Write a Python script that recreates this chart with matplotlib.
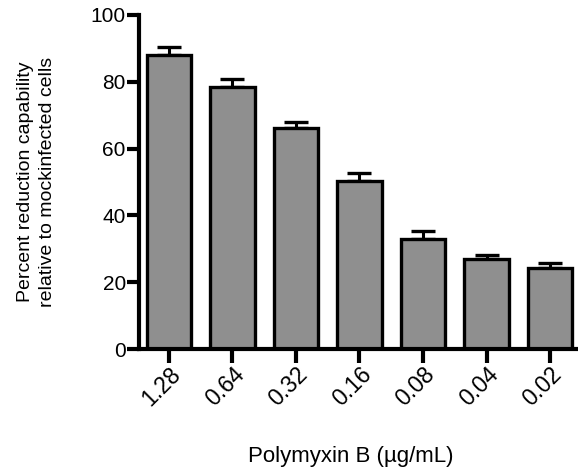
import matplotlib
matplotlib.use('Agg')
import matplotlib.pyplot as plt

# data
doses = ['1.28', '0.64', '0.32', '0.16', '0.08', '0.04', '0.02']
means = [88.0, 78.4, 66.2, 50.3, 33.0, 26.8, 24.4]
errors = [2.4, 2.4, 1.9, 2.4, 2.3, 1.3, 1.4]

plt.rcParams['font.family'] = ['Liberation Sans', 'DejaVu Sans']

fig = plt.figure(figsize=(5.78, 4.74), dpi=100)
ax = fig.add_axes([0.2405, 0.2637, 0.7595, 0.7047])

x = list(range(len(doses)))

# error bars (upper half only, drawn behind the bars)
ax.errorbar(x, means, yerr=[[0] * len(errors), errors], fmt='none',
            ecolor='black', elinewidth=2.2, capsize=8.5, capthick=2.4, zorder=1)
ax.bar(x, means, width=0.7, color='#8f8f8f', edgecolor='black',
       linewidth=2.4, zorder=2)

ax.set_xlim(-0.47, 6.44)
ax.set_ylim(0, 100)
ax.set_yticks([0, 20, 40, 60, 80, 100])
ax.set_xticks(x)
ax.set_xticklabels(doses, rotation=45, ha='right', va='top',
                   rotation_mode='anchor', fontsize=16.5)

for side in ['top', 'right']:
    ax.spines[side].set_visible(False)
for side in ['left', 'bottom']:
    ax.spines[side].set_linewidth(3)
ax.spines['bottom'].set_bounds(-0.47, 6.44)

ax.tick_params(axis='y', length=8.5, width=3, labelsize=15, pad=1)
ax.tick_params(axis='x', length=10, width=3, pad=0)

ax.set_ylabel('Percent reduction capability\nrelative to mockinfected cells',
              fontsize=14, linespacing=1.4, labelpad=25)
ax.set_xlabel('Polymyxin B (µg/mL)', fontsize=16)
ax.xaxis.set_label_coords(0.483, -0.29)

fig.savefig('out.png', dpi=100, facecolor='white')
